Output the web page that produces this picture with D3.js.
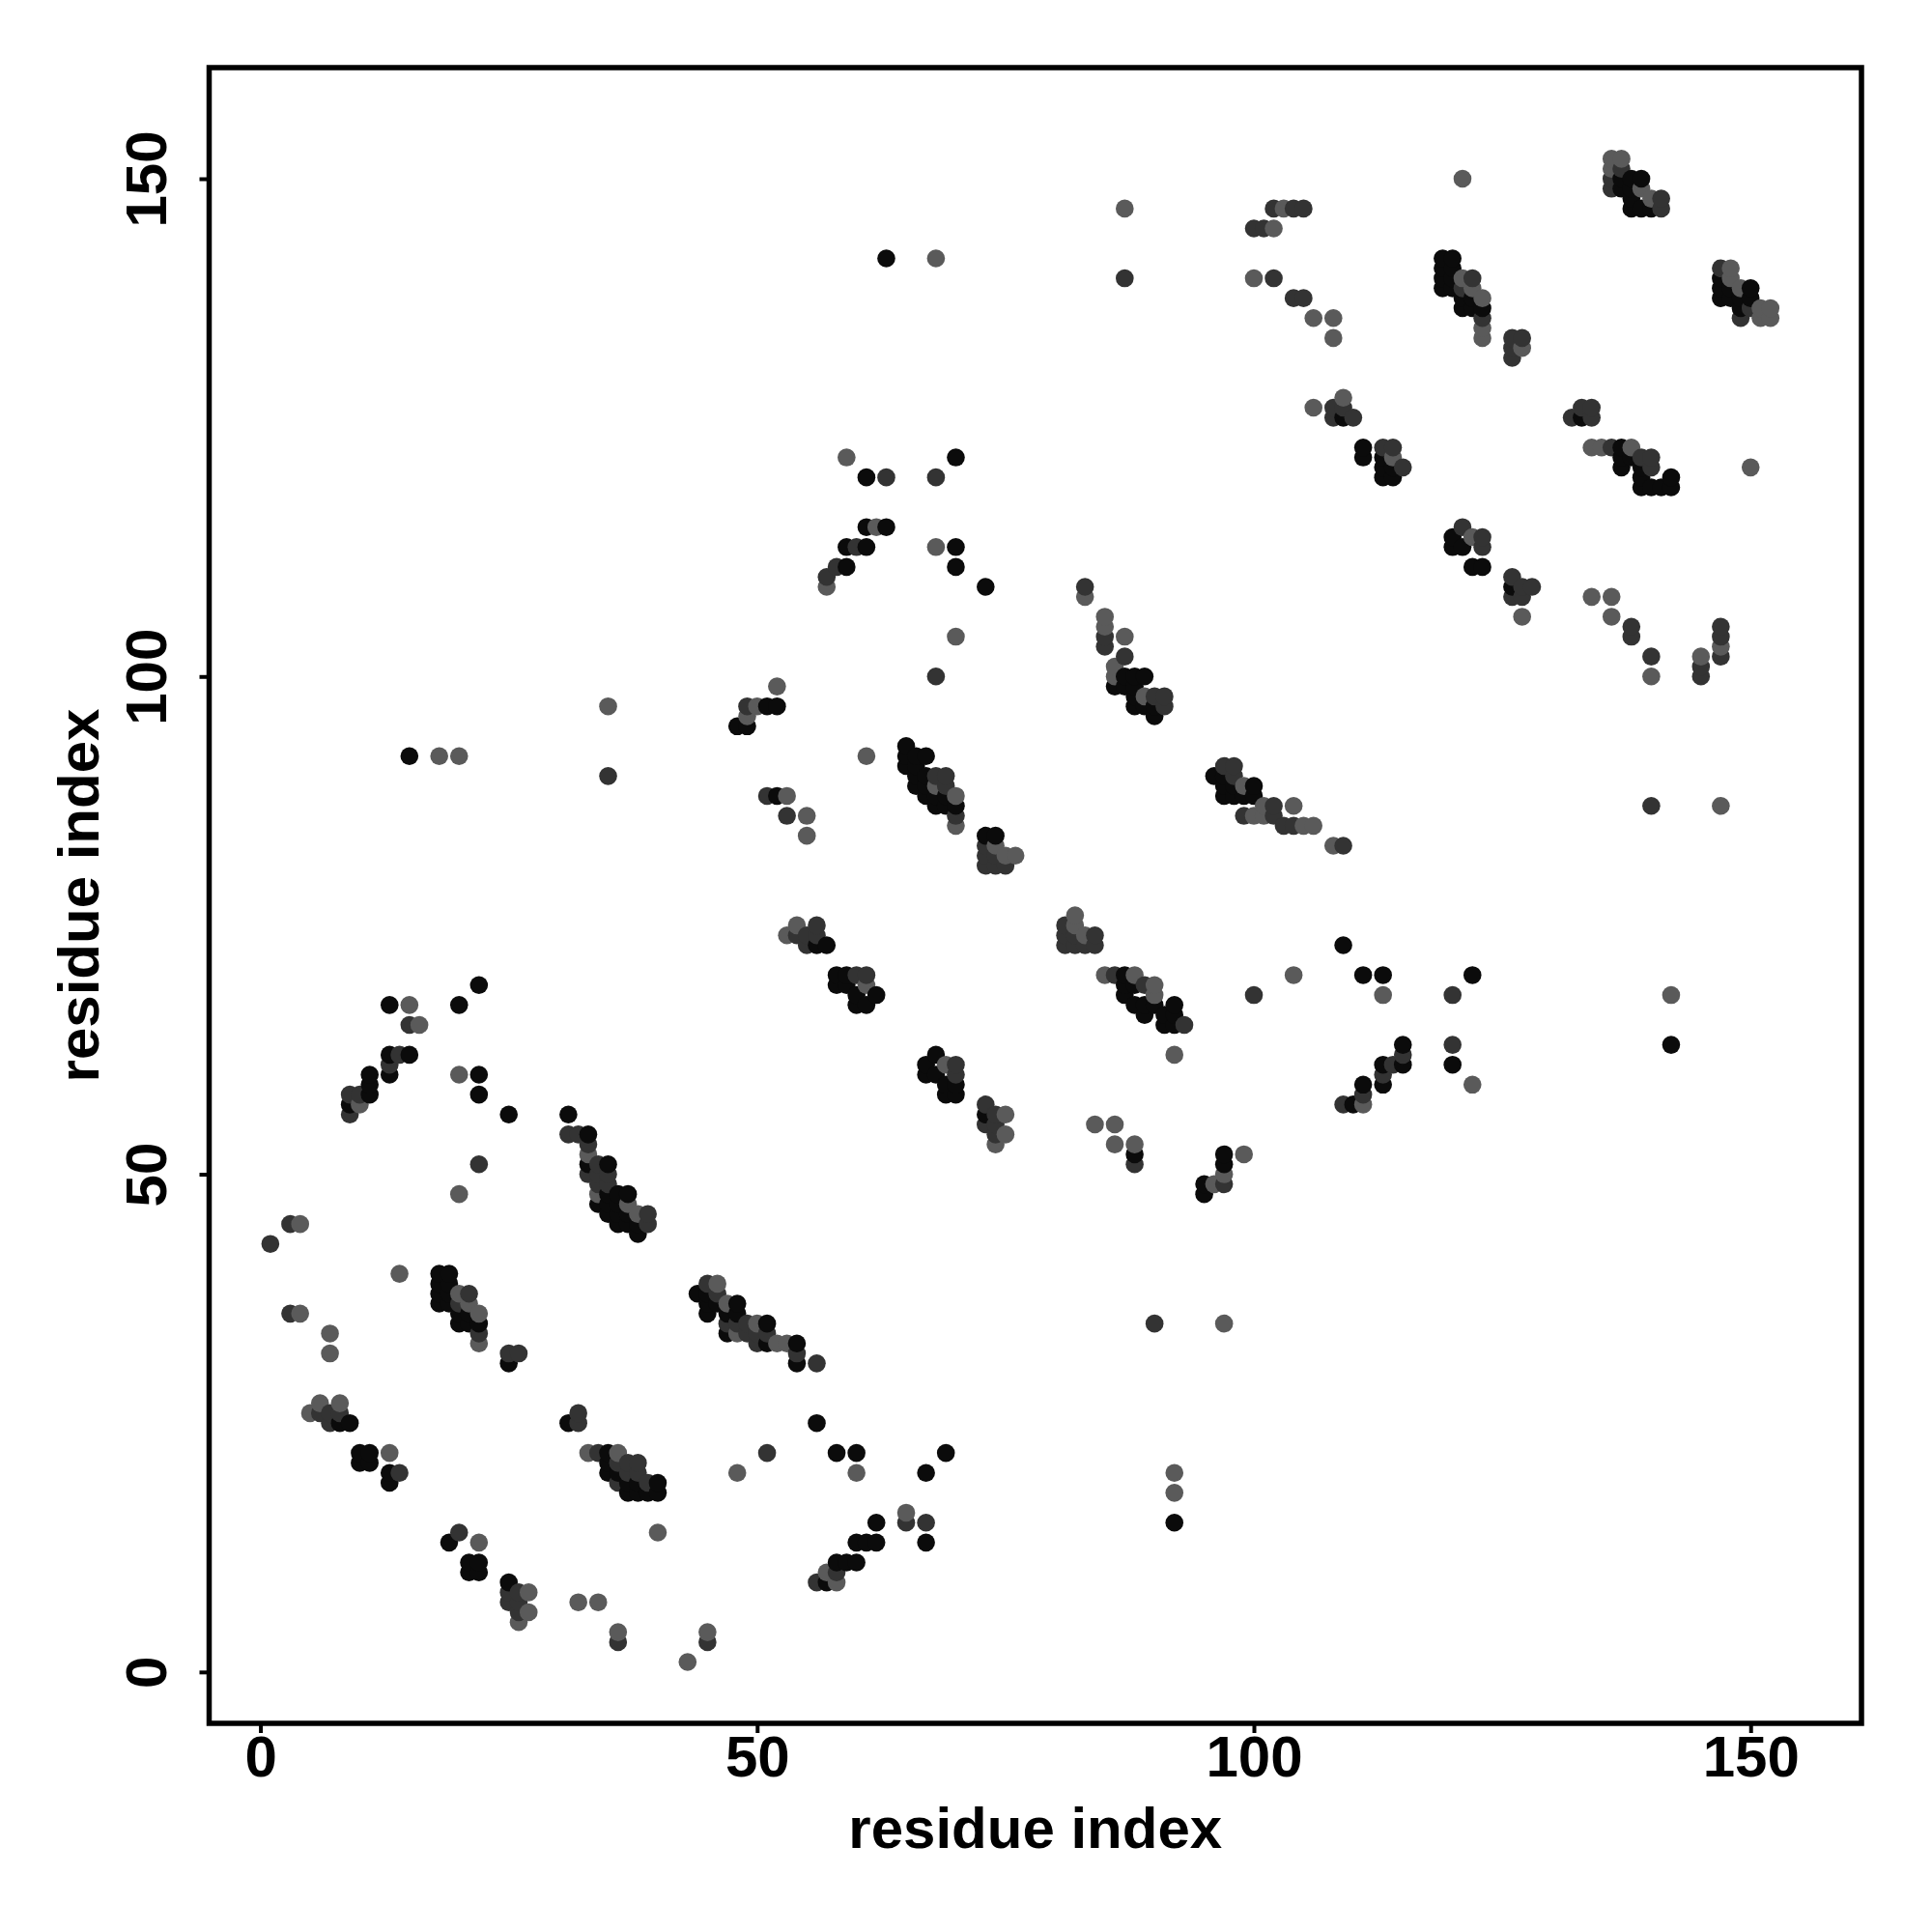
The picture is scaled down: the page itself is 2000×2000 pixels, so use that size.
<!DOCTYPE html>
<html><head><meta charset="utf-8">
<script src="https://cdn.jsdelivr.net/npm/d3@7"></script>
<style>html,body{margin:0;padding:0;background:#fff}</style>
</head><body>
<script>
// contacts (residue i, residue j) grouped by strength
const strongContacts = [
[18,40],[19,40],[18,39],[19,39],[18,38],[19,38],[18,37],[19,37],[20,36],[20,35],[21,36],[21,35],[22,35],
[25,31],[8,25],[9,25],[10,22],[11,22],[10,21],[11,21],[13,20],[13,19],[31,25],
[35,22],[35,21],[35,20],[36,20],[37,19],[38,19],[37,18],[38,18],[39,18],[40,18],[40,19],
[19,13],[21,11],[22,11],[21,10],[22,10],[25,9],
[33,54],[33,51],[35,51],[34,47],[35,48],[36,48],[37,48],[36,46],[36,45],[37,45],[38,44],[38,45],[35,47],[36,47],[35,46],[37,46],[31,56],
[44,38],[45,38],[45,37],[46,37],[45,36],[48,37],[47,36],[48,36],[47,34],[51,35],[51,33],[54,33],[54,31],
[56,25],[58,22],[60,22],[69,22],[67,20],
[62,15],[60,13],[61,13],[62,13],[58,11],[59,11],[60,11],[57,9],[67,13],
[15,92],[22,69],[13,67],[20,67],[13,62],[15,62],[13,60],[11,60],[11,59],[11,58],[9,57],[22,60],[22,58],[25,56],
[51,97],[52,97],[48,95],[49,95],
[65,93],[65,92],[65,91],[66,92],[67,92],[66,91],[66,90],[66,89],[67,90],[68,88],[68,87],[67,88],[67,89],[70,87],[69,87],[69,88],
[73,84],[74,84],[52,88],[56,73],[57,73],
[58,70],[59,70],[58,69],[59,69],[60,68],[62,68],[60,67],[61,67],
[68,62],[67,61],[67,60],[68,60],[69,59],[70,59],[69,58],[70,58],[73,56],
[63,142],[61,120],[70,122],[61,115],[63,115],[59,113],[61,113],[59,111],[70,113],[70,111],[73,109],
[86,99],[87,100],[88,100],[89,100],[87,99],[88,99],[88,98],[88,97],[90,97],[89,97],[90,96],
[96,90],[97,90],[97,89],[97,88],[100,89],[98,88],[99,88],[100,88],[98,89],
[87,70],[87,69],[87,68],[89,67],[90,67],[89,66],[91,65],[92,65],[92,67],[92,66],[91,66],[88,67],[88,69],
[109,73],[111,70],[113,70],[122,70],
[115,63],[113,61],[115,61],[113,59],[111,59],[110,57],[120,61],
[88,52],[97,52],[97,51],[95,49],[95,48],[92,15],
[137,150],[138,150],[139,150],[137,149],[138,149],[138,147],[139,147],[140,147],[138,148],
[119,142],[120,142],[119,141],[119,140],[119,139],[120,140],[120,139],[121,137],[122,137],[123,137],[121,138],[122,138],[120,141],
[147,140],[147,139],[147,138],[150,139],[148,138],[149,138],[150,138],[149,137],[148,139],
[109,126],[111,123],[111,122],[113,122],[113,121],[113,120],[114,120],[114,121],
[120,114],[120,113],[121,113],[122,111],[123,111],[126,109],[133,126],
[137,123],[137,122],[137,121],[138,122],[139,121],[139,119],[140,119],[141,119],[142,119],[142,120],[139,120],
[142,63]
];
const mediumContacts = [
[22,51],[3,45],[1,43],[3,36],[21,38],[20,37],[22,34],[25,32],[26,32],
[6,26],[7,26],[8,26],[7,25],[14,20],[32,26],[32,25],
[34,22],[36,21],[37,21],[37,20],[38,20],[38,21],[36,19],[39,19],
[20,14],[25,8],[26,8],[25,7],[26,7],[26,6],[36,3],[45,3],
[31,54],[32,54],[33,53],[33,50],[34,51],[35,50],[34,49],[35,49],[39,46],[39,45],[34,50],
[45,39],[46,38],[47,35],[48,35],[49,35],[49,34],[50,34],[51,34],[50,33],[54,32],[56,31],
[51,22],[58,10],[56,9],[65,15],[67,15],
[35,90],[15,65],[14,62],[13,61],[9,58],[10,58],[9,56],
[68,100],[49,97],[68,90],[69,90],[69,89],[70,86],
[73,83],[73,82],[73,81],[74,82],[74,81],[75,81],
[51,88],[53,86],[56,75],[54,74],[55,74],[56,74],[55,73],[60,70],[61,70],[70,61],[70,60],
[73,57],[73,55],[74,56],[74,55],[74,54],
[87,140],[102,147],[104,147],[105,147],[100,145],[101,145],[102,140],[104,138],[105,138],[108,127],[108,126],
[63,120],[68,120],[60,113],[58,111],[57,110],[83,109],
[85,104],[85,103],[87,102],[90,98],[91,98],[91,97],
[97,91],[98,91],[98,90],[99,86],[102,87],[102,86],[103,85],[104,85],[109,83],
[81,75],[81,74],[81,73],[82,73],[83,73],[84,74],[84,73],[82,74],
[86,70],[89,69],[93,65],[100,68],[120,68],
[115,62],[114,61],[113,60],[111,58],[109,57],[120,63],
[88,51],[97,49],[90,35],
[137,151],[136,149],[141,148],[141,147],[136,150],
[122,140],[121,139],[123,136],[126,134],[127,134],[126,133],[126,132],
[147,141],[149,136],[150,137],[109,127],[110,126],
[113,123],[114,123],[115,121],[121,115],[123,114],[123,113],
[126,110],[127,109],[128,109],[126,108],[127,108],
[132,126],[133,127],[134,127],[134,126],
[136,123],[139,122],[140,122],[140,121],
[138,105],[138,104],[140,102],[145,101],[145,100],[147,105],[147,104],[147,102],[140,87]
];
const weakContacts = [
[20,48],[4,45],[14,40],[4,36],[7,34],[7,32],[20,38],[21,37],[22,36],[22,33],
[5,26],[6,27],[8,27],[13,22],[33,22],[36,22],[40,14],[22,13],
[27,8],[27,6],[26,5],[32,7],[34,7],[36,4],[45,4],[43,1],
[33,52],[34,48],[37,47],[38,46],
[46,39],[47,37],[48,34],[50,35],[52,33],[53,33],
[48,20],[60,20],[57,10],[58,9],[65,16],
[35,97],[18,92],[20,92],[15,67],[16,65],[10,57],[20,60],
[70,104],[52,99],[50,97],[49,96],[61,92],
[68,89],[70,88],[70,85],[74,83],[75,82],[76,82],
[53,88],[55,86],[55,84],[53,74],[54,75],[61,69],[69,61],
[75,56],[75,54],[74,53],
[68,142],[87,147],[103,147],[102,145],[100,140],[106,136],[108,136],[108,134],[106,127],
[59,122],[62,115],[57,109],[68,113],[83,108],[85,106],
[85,105],[87,104],[86,101],[86,100],[89,98],
[99,89],[100,86],[101,87],[101,86],[105,85],[106,85],[104,87],[108,83],
[82,76],[82,75],[83,74],[85,70],[88,70],[90,69],[90,68],
[92,62],[104,70],[113,68],[111,57],[122,59],[127,106],
[84,55],[86,55],[86,53],[88,53],[97,50],[99,52],[96,49],[97,35],[92,20],[92,18],
[121,150],[136,152],[137,152],[136,151],[139,149],[140,148],
[121,140],[122,139],[123,138],[123,135],[123,134],[127,133],
[148,141],[148,140],[149,139],[151,137],[152,137],[151,136],[152,136],
[109,128],[114,122],[122,114],[134,108],[136,108],
[134,123],[135,123],[138,123],[150,121],
[136,106],[140,100],[145,102],[147,103],[147,87],[142,68]
];
const axisDomain = [-5.16, 161.16];
const tickValues = [0, 50, 100, 150];
const xTitle = "residue index";
const yTitle = "residue index";

// styles
const shade = {strong: "#0b0b0b", medium: "#333333", weak: "#5a5a5a"};
const W = 2000, H = 2000;
const box = {left: 216.5, right: 1927, top: 70, bottom: 1784};
const font = "'Liberation Sans', Arial, Helvetica, sans-serif";

const svg = d3.select("body").append("svg")
  .attr("width", W).attr("height", H)
  .style("background", "#fff");

const x = d3.scaleLinear().domain(axisDomain).range([box.left, box.right]);
const y = d3.scaleLinear().domain(axisDomain).range([box.bottom, box.top]);

const points = [];
strongContacts.forEach(d => points.push({i: d[0], j: d[1], c: shade.strong}));
mediumContacts.forEach(d => points.push({i: d[0], j: d[1], c: shade.medium}));
weakContacts.forEach(d => points.push({i: d[0], j: d[1], c: shade.weak}));
points.sort((a, b) => a.i - b.i || a.j - b.j);

svg.append("g").selectAll("circle").data(points).join("circle")
  .attr("cx", d => x(d.i))
  .attr("cy", d => y(d.j))
  .attr("r", 9.3)
  .attr("fill", d => d.c);

// box
svg.append("rect")
  .attr("x", box.left).attr("y", box.top)
  .attr("width", box.right - box.left).attr("height", box.bottom - box.top)
  .attr("fill", "none").attr("stroke", "#000").attr("stroke-width", 5.5);

// x axis
const gx = svg.append("g").attr("transform", `translate(0,${box.bottom})`)
  .call(d3.axisBottom(x).tickValues(tickValues).tickSize(10).tickFormat(d3.format("d")));
gx.select(".domain").remove();
gx.selectAll(".tick line").attr("stroke", "#000").attr("stroke-width", 4);
gx.selectAll(".tick text")
  .attr("y", 55).attr("dy", 0)
  .attr("fill", "#000")
  .style("font-family", font).style("font-size", "60px").style("font-weight", "bold");

// y axis
const gy = svg.append("g").attr("transform", `translate(${box.left},0)`)
  .call(d3.axisLeft(y).tickValues(tickValues).tickSize(10).tickFormat(d3.format("d")));
gy.select(".domain").remove();
gy.selectAll(".tick line").attr("stroke", "#000").attr("stroke-width", 4);
gy.selectAll(".tick text")
  .attr("x", 0).attr("y", -44.5).attr("dy", 0)
  .attr("transform", "rotate(-90)")
  .attr("text-anchor", "middle")
  .attr("fill", "#000")
  .style("font-family", font).style("font-size", "60px").style("font-weight", "bold");

// titles
svg.append("text")
  .attr("x", (box.left + box.right) / 2).attr("y", 1913)
  .attr("text-anchor", "middle")
  .style("font-family", font).style("font-size", "60px").style("font-weight", "bold")
  .text(xTitle);
svg.append("text")
  .attr("transform", `translate(102,${(box.top + box.bottom) / 2}) rotate(-90)`)
  .attr("text-anchor", "middle")
  .style("font-family", font).style("font-size", "60px").style("font-weight", "bold")
  .text(yTitle);
</script>
</body></html>
